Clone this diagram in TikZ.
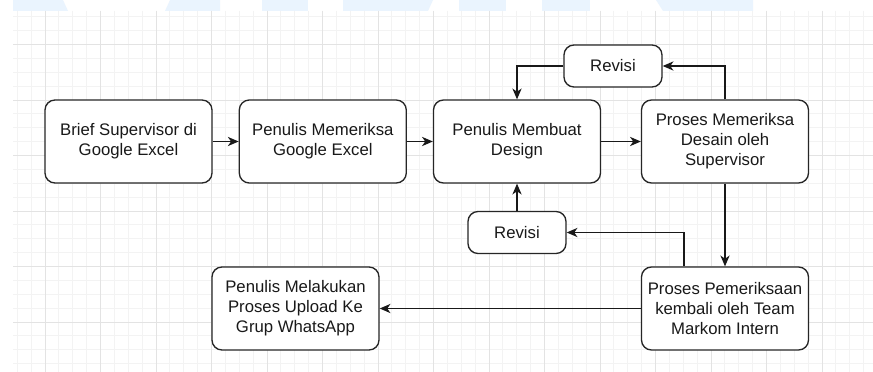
\documentclass[tikz,border=0pt]{standalone}
\usepackage{fontspec}
\setmainfont{Liberation Sans}
\usetikzlibrary{arrows.meta}

\definecolor{airmuda}{RGB}{234,244,254}
\definecolor{gridkecil}{RGB}{243,243,243}
\definecolor{gridbesar}{RGB}{227,227,227}

\tikzset{
  kotak/.style={draw=black!85, line width=0.95pt, rounded corners=0.25cm, fill=white,
    align=center, minimum width=4.175cm, minimum height=2.075cm, inner sep=0pt,
    font=\fontsize{11.9}{14.2}\selectfont, text=black!90},
  kotakkecil/.style={kotak, minimum width=2.45cm, minimum height=1.05cm},
  panah/.style={draw=black!90, line width=0.9pt,
    -{Stealth[length=0.27cm,width=0.23cm,inset=0.08cm]}},
  gariskecil/.style={draw=gridkecil, line width=0.6pt},
  garisbesar/.style={draw=gridbesar, line width=0.6pt}
}

\begin{document}
\begin{tikzpicture}
            \useasboundingbox (0,0) rectangle (21.825,-9.3);
            % Latar
            \fill[white] (0,0) rectangle (21.825,-9.3);

            % Tanda air
            \fill[airmuda] (0.325,0) -- (1.575,0) -- (1.7,-0.275) -- (0.325,-0.275) -- cycle;
            \fill[airmuda] (4.25,0) -- (5.5,0) -- (5.5,-0.275) -- (4.125,-0.275) -- cycle;
            \fill[airmuda] (6.55,0) rectangle (7.7,-0.275);
            \fill[airmuda] (8.575,0) -- (10.825,0) -- (10.7,-0.275) -- (8.575,-0.275) -- cycle;
            \fill[airmuda] (11.475,0) rectangle (12.65,-0.275);
            \fill[airmuda] (13.55,0) rectangle (14.75,-0.275);
            \fill[airmuda] (16.4,0) -- (18.825,0) -- (18.825,-0.275) -- (16.575,-0.275) -- cycle;

            % Grid
            \begin{scope}
              \clip (0.325,-0.275) rectangle (21.825,-9.3);
              \foreach \i in {-2,...,59}
                \draw[gariskecil] ({1.125+\i*0.346875},-0.275) -- ++(0,-9.025);
              \foreach \j in {-2,...,23}
                \draw[gariskecil] (0.325,{-1.1125-\j*0.346875}) -- ++(21.5,0);
              \foreach \i in {0,...,14}
                \draw[garisbesar] ({1.125+\i*1.3875},-0.275) -- ++(0,-9.025);
              \foreach \j in {0,...,5}
                \draw[garisbesar] (0.325,{-1.1125-\j*1.3875}) -- ++(21.5,0);
            \end{scope}

            % Kotak proses
            \node[kotak] (brief) at (3.2125,-3.5375) {Brief Supervisor di\\Google Excel};
            \node[kotak] (cek) at (8.07,-3.5375) {Penulis Memeriksa\\Google Excel};
            \node[kotak] (desain) at (12.925,-3.5375) {Penulis Membuat\\Design};
            \node[kotak] (periksa) at (18.125,-3.5375) {Proses Memeriksa\\Desain oleh\\Supervisor};
            \node[kotakkecil] (revisiA) at (15.325,-1.65) {Revisi};
            \node[kotakkecil] (revisiB) at (12.925,-5.8125) {Revisi};
            \node[kotak] (markom) at (18.125,-7.7125) {Proses Pemeriksaan\\kembali oleh Team\\Markom Intern};
            \node[kotak] (upload) at (7.3875,-7.7125) {Penulis Melakukan\\Proses Upload Ke\\Grup WhatsApp};

            % Panah
            \draw[panah] (brief) -- (cek);
            \draw[panah] (cek) -- (desain);
            \draw[panah] (desain) -- (periksa);
            \draw[panah] (periksa.north) |- (revisiA.east);
            \draw[panah] (revisiA.west) -| (desain.north);
            \draw[panah] (periksa) -- (markom);
            \draw[panah] ([xshift=-1.025cm]markom.north) |- (revisiB.east);
            \draw[panah] (revisiB) -- (desain);
            \draw[panah] (markom) -- (upload);
\end{tikzpicture}
\end{document}
